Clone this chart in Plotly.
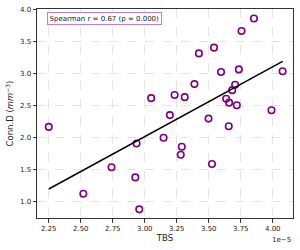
import numpy as np
import plotly.graph_objects as go

# TBS values (in units of 1e-5)
tbs = [2.25, 2.52, 2.74, 2.926, 2.936, 2.957, 3.05, 3.147, 3.196, 3.233,
       3.281, 3.289, 3.312, 3.388, 3.423, 3.498, 3.525, 3.541, 3.596, 3.636,
       3.656, 3.659, 3.683, 3.706, 3.719, 3.735, 3.756, 3.853, 3.99, 4.077]
conn_d = [2.17, 1.125, 1.54, 1.38, 1.91, 0.88, 2.62, 2.00, 2.355, 2.67,
          1.734, 1.86, 2.636, 2.84, 3.32, 2.30, 1.59, 3.41, 3.03, 2.61,
          2.18, 2.55, 2.745, 2.83, 2.51, 3.07, 3.67, 3.866, 2.43, 3.04]
x_ticks = [2.25, 2.50, 2.75, 3.00, 3.25, 3.50, 3.75, 4.00]
y_ticks = [1.0, 1.5, 2.0, 2.5, 3.0, 3.5, 4.0]
stat_text = "Spearman r = 0.67 (p = 0.000)"

xa = np.array(tbs)
ya = np.array(conn_d)
slope, intercept = np.polyfit(xa, ya, 1)
fit_x = np.array([xa.min(), xa.max()])
fit_y = slope * fit_x + intercept

font = "DejaVu Sans"
fig = go.Figure()
fig.add_trace(go.Scatter(
    x=tbs, y=conn_d, mode="markers",
    marker=dict(symbol="circle-open", size=6.5, color="#800080",
                line=dict(width=1.6, color="#800080")),
    showlegend=False, hoverinfo="skip"))
fig.add_trace(go.Scatter(
    x=fit_x, y=fit_y, mode="lines",
    line=dict(color="black", width=1.5),
    showlegend=False, hoverinfo="skip"))

axis_common = dict(
    showgrid=True, gridcolor="#e4e4e4", griddash="dash", gridwidth=0.8,
    zeroline=False, showline=True, linecolor="#333333", linewidth=1,
    mirror=True, ticks="outside", ticklen=3.5, tickwidth=0.8,
    tickcolor="#333333", tickfont=dict(family=font, size=7, color="#222222"),
)
fig.update_xaxes(range=[2.158, 4.158], tickvals=x_ticks,
                 ticktext=[f"{v:.2f}" for v in x_ticks],
                 title=dict(text="TBS", font=dict(family=font, size=8.5, color="#222222"),
                            standoff=2),
                 **axis_common)
fig.update_yaxes(range=[0.745, 4.015], tickvals=y_ticks,
                 ticktext=[f"{v:.1f}" for v in y_ticks],
                 title=dict(text="Conn.D (<i>mm</i><sup>−3</sup>)",
                            font=dict(family=font, size=8.5, color="#222222"),
                            standoff=4),
                 **axis_common)

fig.add_annotation(xref="paper", yref="paper", x=0.04, y=0.955,
                   xanchor="left", yanchor="middle", text=stat_text,
                   showarrow=False, font=dict(family=font, size=7, color="#222222"),
                   bgcolor="white", bordercolor="#c77dc7", borderwidth=1, borderpad=1.5)
fig.add_annotation(xref="paper", yref="paper", x=1.0, y=-0.075,
                   xanchor="right", yanchor="top", text="1e−5",
                   showarrow=False, font=dict(family=font, size=7, color="#222222"))

fig.update_layout(width=300, height=250, margin=dict(l=37, r=7, t=9, b=32),
                  plot_bgcolor="white", paper_bgcolor="white",
                  font=dict(family=font))
fig.write_html("out.html")
